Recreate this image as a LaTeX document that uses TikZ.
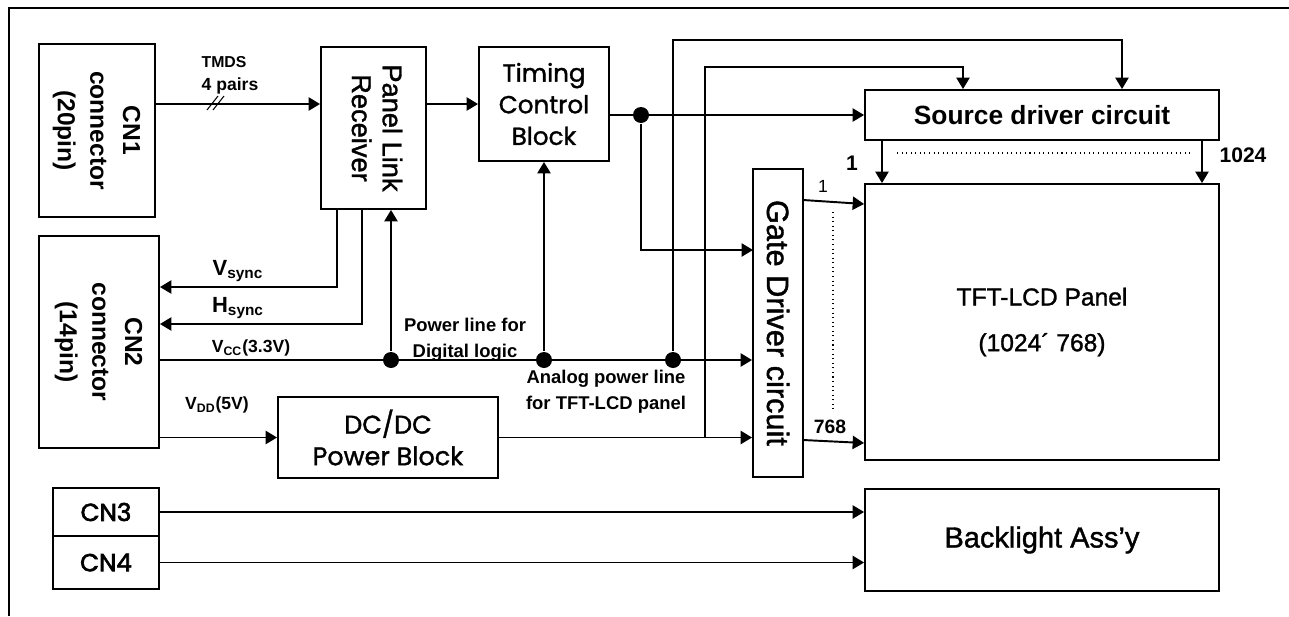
\documentclass[tikz,border=0pt]{standalone}
\usepackage{fontspec}
\setmainfont{Liberation Sans}
\newfontfamily\gothic[FakeBold=1.3]{Poppins}
\newfontfamily\gothicheavy[FakeBold=2.6]{Poppins}
\newfontfamily\medsans[FakeBold=1.3]{Liberation Sans}
\usetikzlibrary{arrows.meta,calc}
\newcommand{\vtext}[1]{\rotatebox{-90}{\begin{tabular}{@{}c@{}}#1\end{tabular}}}

\begin{document}
\begin{tikzpicture}[x=0.02cm, y=-0.02cm, line width=1.1pt,
    >={Triangle[length=6.5pt, width=7.5pt]},
    blk/.style={draw, rectangle, inner sep=0pt, align=center},
    jdot/.style={circle, fill=black, inner sep=0pt, minimum size=0.32cm},
    lbl/.style={font=\bfseries\fontsize{9}{14.5}\selectfont, align=center}]
  \useasboundingbox (0, 0) rectangle (1289, 616);
  \draw (9, 616) -- (9, 8) -- (1289, 8);

  \node [blk, minimum width=2.32cm, minimum height=3.46cm, font=\bfseries\fontsize{14}{18.5}\selectfont] (cn1) at (97, 130.5) {\vtext{CN1\\connector\\(20pin)}};
  \node [blk, minimum width=2.1cm, minimum height=3.24cm, font=\medsans\fontsize{15.5}{17.5}\selectfont] (plr) at (373.5, 128) {\vtext{Panel Link\\Receiver}};
  \node [blk, minimum width=2.6cm, minimum height=2.28cm, font=\gothic\fontsize{14}{18}\selectfont] (tcb) at (544, 104) {Timing\\Control\\Block};
  \node [blk, minimum width=7.08cm, minimum height=1cm, font=\bfseries\fontsize{15}{17}\selectfont] (sdc) at (1042, 115) {Source driver circuit};
  \node [blk, minimum width=7.08cm, minimum height=5.52cm, font=\medsans\fontsize{14}{26}\selectfont] (lcd) at (1042, 322) {TFT-LCD Panel\\(1024´ 768)};
  \node [blk, minimum width=1cm, minimum height=6.16cm, font=\medsans\fontsize{17.5}{18}\selectfont] (gdc) at (778, 323) {\rotatebox{-90}{Gate Driver circuit}};
  \node [blk, minimum width=2.4cm, minimum height=4.24cm, font=\bfseries\fontsize{14}{18.5}\selectfont] (cn2) at (99, 342) {\vtext{CN2\\connector\\(14pin)}};
  \node [blk, minimum width=4.4cm, minimum height=1.62cm, font=\gothic\fontsize{14.5}{18}\selectfont] (dcdc) at (388, 437.5) {DC/DC\\Power Block};
  \node [blk, minimum width=2.12cm, minimum height=0.96cm, font=\gothicheavy\fontsize{14}{14}\selectfont] (cn3) at (106, 512) {CN3};
  \node [blk, minimum width=2.12cm, minimum height=1.06cm, font=\gothicheavy\fontsize{14}{14}\selectfont] (cn4) at (106, 562.5) {CN4};
  \node [blk, minimum width=7.08cm, minimum height=2.04cm, font=\medsans\fontsize{16.5}{17}\selectfont] (bl) at (1042, 540) {Backlight Ass’y};

  \draw [->] (cn1.east |- tcb.west) -- (plr.west |- tcb.west);
  \draw [line width=0.6pt] (207, 110) -- (218, 96) (213, 110) -- (224, 96);
  \node [lbl] (tmds) at (224, 62) {TMDS};
  \node [lbl, font=\bfseries\fontsize{10}{12}\selectfont] (pairs) at (230, 86) {4 pairs};
  \draw [->] (plr.east |- tcb.west) -- (tcb.west);
  \draw [->] (tcb.east |- sdc.west) -- (sdc.west);
  \node [jdot] (j1) at (641, 115) {};
  \coordinate (gin1) at (753, 250);
  \draw [->] (j1) |- (gin1);

  \coordinate (vin) at (159, 360);
  \draw [->] (vin) -- (gdc.west |- vin);
  \node [jdot] (d1) at (391, 360) {};
  \node [jdot] (d2) at (tcb.south |- vin) {};
  \node [jdot] (d3) at (673, 360) {};
  \draw [->] (d1) -- (plr.south -| d1);
  \draw [->] (d2) -- (tcb.south);
  \coordinate (t1) at (1122, 40);
  \draw [->] (d3) |- (t1) -- (sdc.north -| t1);

  \draw [->] (dcdc.east) -- (gdc.west |- dcdc.east);
  \coordinate (j2) at (705, 437.5);
  \coordinate (t2) at (963, 67);
  \draw [->] (j2) |- (t2) -- (sdc.north -| t2);

  \coordinate (vs) at (337, 287);
  \coordinate (hs) at (362, 324);
  \draw [->] (plr.south -| vs) |- (cn2.east |- vs);
  \draw [->] (plr.south -| hs) |- (cn2.east |- hs);
  \draw [->] (cn2.east |- dcdc.west) -- (dcdc.west);
  \node [lbl, font=\bfseries\fontsize{12.5}{13}\selectfont, anchor=south] (vsl) at (238, 289) {V\textsubscript{sync}};
  \node [lbl, font=\bfseries\fontsize{12.5}{13}\selectfont, anchor=south] (hsl) at (238, 326) {H\textsubscript{sync}};
  \node [lbl, font=\bfseries\fontsize{10}{12}\selectfont] (vccl) at (251, 348) {V\textsubscript{CC}(3.3V)};
  \node [lbl, font=\bfseries\fontsize{10}{12}\selectfont] (vddl) at (217, 405) {V\textsubscript{DD}(5V)};
  \node [lbl, font=\bfseries\fontsize{10.5}{15}\selectfont] (pwd) at (465, 340) {Power line for\\Digital logic};
  \node [lbl, font=\bfseries\fontsize{10.5}{15}\selectfont] (pwa) at (606, 391.5) {Analog power line\\for TFT-LCD panel};

  \coordinate (c1) at (882, 140);
  \coordinate (c1024) at (1202, 140);
  \draw [->] (c1) -- (lcd.north -| c1);
  \draw [->] (c1024) -- (lcd.north -| c1024);
  \draw [dotted, line width=0.6pt] (897, 153) -- (1193, 153);
  \coordinate (r1) at (803, 200);
  \coordinate (r768) at (803, 440);
  \draw [->] (r1) -- ($(lcd.west |- r1)+(0, 4)$);
  \draw [->] (r768) -- ($(lcd.west |- r768)+(0, 3)$);
  \draw [dotted, line width=0.6pt] (833, 212) -- (833, 410);
  \node [font=\bfseries\fontsize{12}{14}\selectfont] (n1) at (852, 163) {1};
  \node [font=\bfseries\fontsize{12}{14}\selectfont] (n1024) at (1243, 155) {1024};
  \node [font=\fontsize{10}{12}\selectfont] (m1) at (823, 186) {1};
  \node [font=\bfseries\fontsize{11}{13}\selectfont] (m768) at (830, 427) {768};

  \draw [->] (cn3.east) -- (bl.west |- cn3.east);
  \draw [->] (cn4.east) -- (bl.west |- cn4.east);
\end{tikzpicture}
\end{document}
